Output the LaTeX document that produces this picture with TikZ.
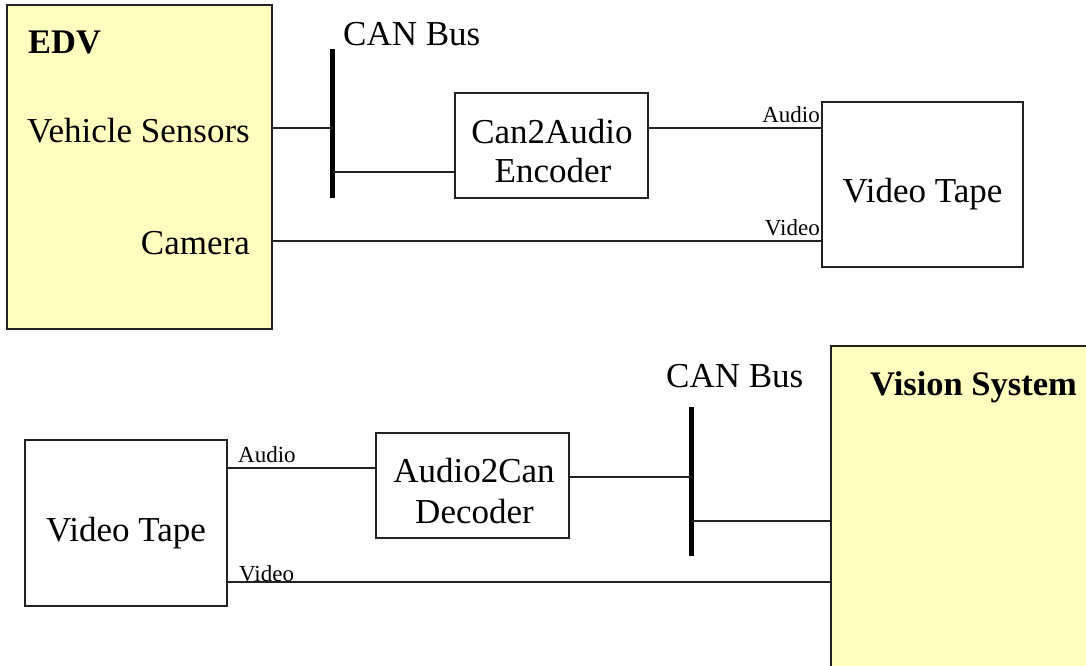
\documentclass[tikz,border=0pt]{standalone}
\usepackage{fontspec}
\setmainfont{Liberation Serif}
\definecolor{pale}{HTML}{FFFFC0}
\definecolor{edge}{HTML}{222222}
\begin{document}
\begin{tikzpicture}[x=1pt,y=-1pt,
  box/.style={draw=edge,line width=1.2pt,anchor=north west,inner sep=0pt,outer sep=0pt},
  sysbox/.style={box,fill=pale},
  big/.style={font=\fontsize{35}{40}\selectfont,inner sep=0pt},
  bigb/.style={font=\fontsize{34.5}{40}\selectfont\bfseries,inner sep=0pt},
  small/.style={font=\fontsize{23}{26}\selectfont,inner sep=0pt},
  wire/.style={line width=1.2pt,draw=edge},
  busline/.style={line width=5pt,black}]
\useasboundingbox (0,0) rectangle (1086,665);
\clip (0,0) rectangle (1086,665);
% ---------- top part ----------
\node[sysbox,minimum width=265pt,minimum height=324pt] (edv) at (7,5) {};
\node[bigb,anchor=base west] (edvt) at (28,53) {EDV};
\node[big,anchor=base east] (vs) at (250,142) {Vehicle Sensors};
\node[big,anchor=base east] (cam) at (250,254) {Camera};
\coordinate (b1t) at (332.5,49);
\coordinate (b1b) at (332.5,198);
\draw[busline] (b1t) -- (b1b);
\node[big,anchor=base west] (can1) at (343,45) {CAN Bus};
\node[box,minimum width=193pt,minimum height=105pt] (enc) at (455,93) {};
\node[big,anchor=base] (enct1) at (552,143) {Can2Audio};
\node[big,anchor=base] (enct2) at (553,182) {Encoder};
\node[box,minimum width=201pt,minimum height=165pt] (tape1) at (822,102) {};
\node[big,anchor=base] (tape1t) at (922.5,202) {Video Tape};
\node[small,anchor=base east] (aud1) at (820,122) {Audio};
\node[small,anchor=base east] (vid1) at (820,235) {Video};
\draw[wire] (edv.east |- 0,128) -- (b1t |- 0,128);
\draw[wire] (b1t |- 0,172) -- (enc.west |- 0,172);
\draw[wire] (enc.east |- 0,128) -- (tape1.west |- 0,128);
\draw[wire] (edv.east |- 0,241) -- (tape1.west |- 0,241);
% ---------- bottom part ----------
\node[box,minimum width=202pt,minimum height=166pt] (tape2) at (25,440) {};
\node[big,anchor=base] (tape2t) at (126,541) {Video Tape};
\node[small,anchor=base west] (aud2) at (238,462) {Audio};
\node[small,anchor=base west] (vid2) at (239,581) {Video};
\node[box,minimum width=193pt,minimum height=105pt] (dec) at (376,433) {};
\node[big,anchor=base] (dect1) at (474,482) {Audio2Can};
\node[big,anchor=base] (dect2) at (474.5,523) {Decoder};
\coordinate (b2t) at (691.5,407);
\coordinate (b2b) at (691.5,556);
\draw[busline] (b2t) -- (b2b);
\node[big,anchor=base west] (can2) at (666,387) {CAN Bus};
\node[sysbox,minimum width=300pt,minimum height=400pt] (vis) at (831,346) {};
\node[bigb,anchor=base west] (vist) at (870,395) {Vision System};
\draw[wire] (tape2.east |- 0,468) -- (dec.west |- 0,468);
\draw[wire] (dec.east |- 0,477) -- (b2t |- 0,477);
\draw[wire] (b2t |- 0,521) -- (vis.west |- 0,521);
\draw[wire] (tape2.east |- 0,582) -- (vis.west |- 0,582);
\end{tikzpicture}
\end{document}
